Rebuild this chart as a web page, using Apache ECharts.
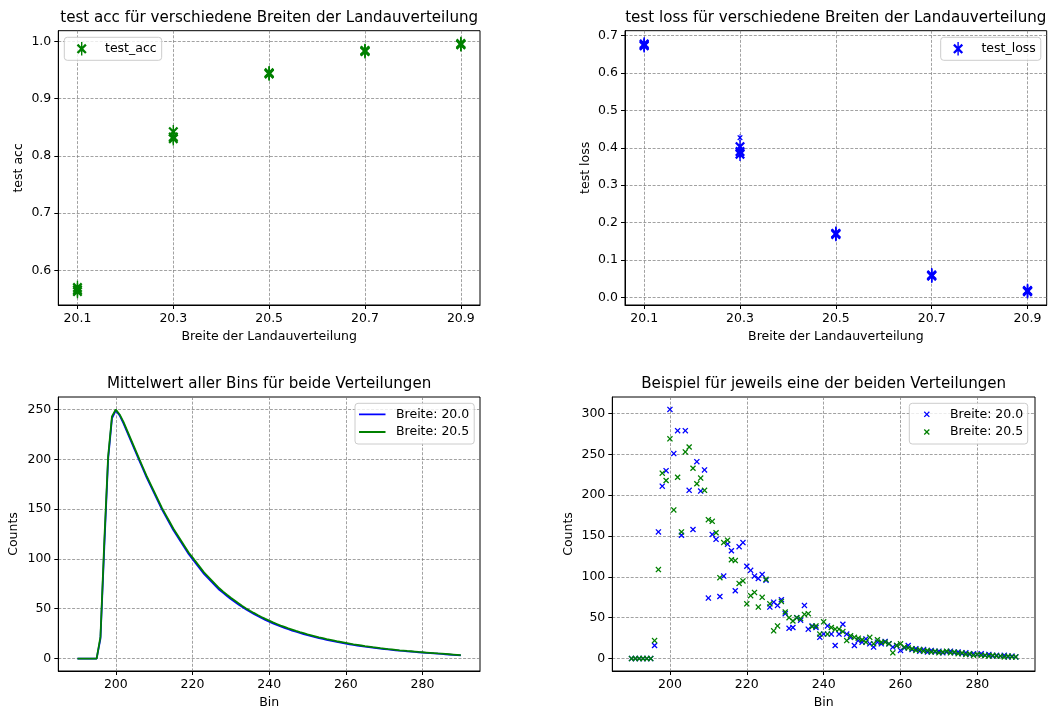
<!DOCTYPE html>
<html><head><meta charset="utf-8">
<script src="https://cdn.jsdelivr.net/npm/echarts@6/dist/echarts.min.js"></script>
<style>html,body{margin:0;padding:0;background:#fff}#c{width:1049px;height:711px}</style>
</head><body><div id="c"></div>
<script>
// ---- data ----
const widths = [20.1, 20.3, 20.5, 20.7, 20.9];
const accRun1 = [0.570, 0.842, 0.944, 0.984, 0.996];
const accRun2 = [0.563, 0.833, 0.943, 0.982, 0.995];
const accRun3 = [0.566, 0.830, 0.945, 0.983, 0.994];
const lossRun1 = [0.675, 0.403, 0.171, 0.060, 0.018];
const lossRun2 = [0.678, 0.390, 0.168, 0.057, 0.015];
const lossRun3 = [0.673, 0.383, 0.170, 0.058, 0.017];
const lossSmallX = [20.3];
const lossSmallY = [0.427];

const bins = [190,191,192,193,194,195,196,197,198,199,
200,201,202,203,204,205,206,207,208,209,
210,211,212,213,214,215,216,217,218,219,
220,221,222,223,224,225,226,227,228,229,
230,231,232,233,234,235,236,237,238,239,
240,241,242,243,244,245,246,247,248,249,
250,251,252,253,254,255,256,257,258,259,
260,261,262,263,264,265,266,267,268,269,
270,271,272,273,274,275,276,277,278,279,
280,281,282,283,284,285,286,287,288,289,
290];
const meanW200 = [0,0,0,0,0,0,20,112,200,241,
249,244,236,227,218,209,200,191,182,174,
166,158,150,143,136,129,123,117,111,105,
100,95,90,85,81,77,73,69,66,62.8,
59.8,57,54.3,51.7,49.3,47,44.8,42.7,40.7,38.8,
37,35.3,33.7,32.2,30.8,29.4,28.1,26.9,25.7,24.6,
23.5,22.5,21.5,20.6,19.7,18.8,18,17.2,16.4,15.7,
15,14.3,13.7,13.1,12.5,11.9,11.4,10.9,10.4,9.9,
9.5,9.1,8.7,8.3,7.9,7.6,7.2,6.9,6.6,6.3,
6,5.7,5.4,5.1,4.9,4.6,4.3,4,3.7,3.4,
3.1];
const meanW205 = [0,0,0,0,0,0,22,118,203,243,
250,245,237.5,228.5,219.5,210.5,201.5,192.5,183.5,175.5,
167.5,159.5,151.5,144.5,137.5,130.5,124.5,118.5,112.5,106.5,
101.5,96.5,91.5,86.5,82.5,78.5,74.5,70.5,67.2,64,
61,58.2,55.4,52.8,50.3,48,45.8,43.7,41.7,39.8,
38,36.3,34.7,33.1,31.7,30.3,29,27.7,26.5,25.4,
24.3,23.3,22.3,21.3,20.4,19.5,18.7,17.9,17.1,16.4,
15.7,15,14.3,13.7,13.1,12.5,12,11.4,10.9,10.4,
10,9.5,9.1,8.7,8.3,8,7.6,7.3,7,6.6,
6.3,6,5.7,5.4,5.1,4.9,4.6,4.3,4,3.7,
3.4];
const sampleW200 = [0,0,0,0,0,0,16,155,211,230,
305,251,279,151,279,206,158,241,205,231,
74,152,146,76,101,140,132,83,137,142,
113,108,101,98,103,96,63,69,65,72,
55,37,38,50,47,65,36,40,38,26,
30,40,30,16,30,42,30,26,16,22,
20,24,18,14,20,18,21,18,14,16,
10,13,16,11,12,9,11,8,10,8,
9,7,8,9,7,8,6,7,5,6,
5,6,4,5,3,4,3,4,2,3,
2];
const sampleW205 = [0,0,0,0,0,0,22,109,227,218,
269,182,222,155,253,259,233,214,221,206,
170,168,154,99,142,145,121,120,92,95,
67,77,81,63,75,97,67,34,40,70,
57,50,46,50,49,54,55,39,40,30,
45,30,38,36,36,33,22,28,26,25,
23,20,26,18,23,20,20,18,7,16,
18,14,13,12,10,11,9,10,8,9,
7,8,9,7,8,6,7,5,6,4,
5,4,4,3,4,3,3,2,3,2,
2];
const xTicksTop = [20.1, 20.3, 20.5, 20.7, 20.9];
const yTicksAcc = [0.6, 0.7, 0.8, 0.9, 1.0];
const yTicksLoss = [0.0, 0.1, 0.2, 0.3, 0.4, 0.5, 0.6, 0.7];
const xTicksBin = [200, 220, 240, 260, 280];
const yTicksMean = [0, 50, 100, 150, 200, 250];
const yTicksSample = [0, 50, 100, 150, 200, 250, 300];

// ---- styles ----
const FONT = 'DejaVu Sans';
const FS = 12.5;
const GREEN = '#008000', BLUE = '#0000ff';
const X_SHAPE = 'M0,1.5L1.5,0L5,3.5L8.5,0L10,1.5L6.5,5L10,8.5L8.5,10L5,6.5L1.5,10L0,8.5L3.5,5Z';
const XBAR_SHAPE = 'M0,1.6L1.6,0L5,3.4L8.4,0L10,1.6L6.6,5L10,8.4L8.4,10L5,6.6L1.6,10L0,8.4L3.4,5ZM4.3,-1.8L5.7,-1.8L5.7,11.8L4.3,11.8Z';
const X_PATH = 'path://' + X_SHAPE;
const XBAR_PATH = 'path://' + XBAR_SHAPE;
// legend icons: same marker, padded with invisible points so it keeps the plot size
const X_LEGEND = 'path://' + X_SHAPE + 'M-15,-5.83L-15,-5.83ZM35.3,15.83L35.3,15.83Z';
const XBAR_LEGEND = 'path://' + XBAR_SHAPE + 'M-6.9,-1.8L-6.9,-1.8ZM23.3,11.8L23.3,11.8Z';
const LINE_LEGEND = 'path://M0,5.6L26.5,5.6L26.5,7.4L0,7.4ZM32,0L32,0ZM32,13L32,13Z';

function pairs(xs, ys) { return xs.map((x, i) => [x, ys[i]]); }

function mkAxis(gi, opts) {
  return Object.assign({
    type: 'value', gridIndex: gi, scale: false,
    nameLocation: 'middle',
    nameTextStyle: { fontFamily: FONT, fontSize: FS, color: '#000' },
    axisLine: { show: true, onZero: false, lineStyle: { color: '#000', width: 1 } },
    axisTick: { show: true, length: 4, lineStyle: { color: '#000', width: 1 }, customValues: opts.ticks },
    axisLabel: { show: true, customValues: opts.ticks, margin: 7, fontFamily: FONT, fontSize: FS, color: '#000',
      formatter: v => opts.dec != null ? Number(v).toFixed(opts.dec) : String(v) },
    splitLine: { show: true, lineStyle: { color: '#7a7a7a', width: 0.7, type: [3, 1.6] } }
  }, opts.extra);
}

const legendBase = {
  orient: 'vertical', selectedMode: false,
  itemWidth: 30.2, itemHeight: 13, itemGap: 4.7,
  borderColor: '#cccccc', borderWidth: 1, borderRadius: 3,
  backgroundColor: 'rgba(255,255,255,0.8)',
  itemStyle: { borderWidth: 0 },
  textStyle: { fontFamily: FONT, fontSize: FS, color: '#000', lineHeight: 13 }
};
const titleBase = { textAlign: 'center', textVerticalAlign: 'middle', padding: 0,
  textStyle: { fontFamily: FONT, fontSize: 15.1, fontWeight: 'normal', color: '#000' } };

const grids = [
  { left: 58.3, top: 30.7, width: 421.7, height: 274.3 },
  { left: 625, top: 30.7, width: 421.7, height: 274.3 },
  { left: 58.3, top: 397, width: 421.7, height: 274 },
  { left: 612.3, top: 397, width: 422.7, height: 274 }
].map(g => Object.assign({ show: true, borderColor: '#000', borderWidth: 1, backgroundColor: 'transparent' }, g));

const option = {
  animation: false,
  backgroundColor: '#fff',
  title: [
    Object.assign({ text: 'test acc für verschiedene Breiten der Landauverteilung', left: 269.2, top: 18.5 }, titleBase),
    Object.assign({ text: 'test loss für verschiedene Breiten der Landauverteilung', left: 835.8, top: 18.5 }, titleBase),
    Object.assign({ text: 'Mittelwert aller Bins für beide Verteilungen', left: 269.2, top: 384 }, titleBase),
    Object.assign({ text: 'Beispiel für jeweils eine der beiden Verteilungen', left: 823.7, top: 384 }, titleBase)
  ],
  grid: grids,
  xAxis: [
    mkAxis(0, { ticks: xTicksTop, dec: 1, extra: { min: 20.06, max: 20.94, name: 'Breite der Landauverteilung', nameGap: 25 } }),
    mkAxis(1, { ticks: xTicksTop, dec: 1, extra: { min: 20.06, max: 20.94, name: 'Breite der Landauverteilung', nameGap: 25 } }),
    mkAxis(2, { ticks: xTicksBin, extra: { min: 185, max: 295, name: 'Bin', nameGap: 25 } }),
    mkAxis(3, { ticks: xTicksBin, extra: { min: 185, max: 295, name: 'Bin', nameGap: 25 } })
  ],
  yAxis: [
    mkAxis(0, { ticks: yTicksAcc, dec: 1, extra: { min: 0.5395, max: 1.0185, name: 'test acc', nameGap: 33 } }),
    mkAxis(1, { ticks: yTicksLoss, dec: 1, extra: { min: -0.0206, max: 0.7134, name: 'test loss', nameGap: 33 } }),
    mkAxis(2, { ticks: yTicksMean, extra: { min: -12.5, max: 262.5, name: 'Counts', nameGap: 38 } }),
    mkAxis(3, { ticks: yTicksSample, extra: { min: -15.25, max: 320.25, name: 'Counts', nameGap: 37 } })
  ],
  legend: [
    Object.assign({}, legendBase, { data: [{ name: 'test_acc', icon: XBAR_LEGEND }], left: 64.3, top: 37.3,
      itemHeight: 13.6, padding: [4.7, 5, 4.7, 5.5] }),
    Object.assign({}, legendBase, { data: [{ name: 'test_loss', icon: XBAR_LEGEND }], left: 940.7, top: 37.3,
      itemHeight: 13.6, padding: [4.7, 5, 4.7, 5.5] }),
    Object.assign({}, legendBase, { data: [{ name: 'Breite: 20.0', icon: LINE_LEGEND }, { name: 'Breite: 20.5', icon: LINE_LEGEND }],
      left: 355, top: 403.3, itemWidth: 32, padding: [4.5, 5, 5.5, 4] }),
    Object.assign({}, legendBase, { data: [{ name: 'Beispiel 20.0', icon: X_LEGEND }, { name: 'Beispiel 20.5', icon: X_LEGEND }],
      left: 909.3, top: 403.3, padding: [4.5, 4.5, 5.5, 5.5],
      formatter: n => n.replace('Beispiel ', 'Breite: ') })
  ],
  series: [
    { name: 'test_acc', type: 'scatter', xAxisIndex: 0, yAxisIndex: 0, symbol: XBAR_PATH, symbolSize: [10, 13.6],
      itemStyle: { color: GREEN, opacity: 1 },
      data: pairs(widths, accRun1).concat(pairs(widths, accRun2), pairs(widths, accRun3)) },
    { name: 'test_loss', type: 'scatter', xAxisIndex: 1, yAxisIndex: 1, symbol: XBAR_PATH, symbolSize: [10, 13.6],
      itemStyle: { color: BLUE, opacity: 1 },
      data: pairs(widths, lossRun1).concat(pairs(widths, lossRun2), pairs(widths, lossRun3),
        pairs(lossSmallX, lossSmallY).map(p => ({ value: p, symbolSize: [5.5, 7.5] }))) },
    { name: 'Breite: 20.0', type: 'line', xAxisIndex: 2, yAxisIndex: 2, symbol: 'none',
      lineStyle: { color: BLUE, width: 1.8 }, itemStyle: { color: BLUE }, data: pairs(bins, meanW200) },
    { name: 'Breite: 20.5', type: 'line', xAxisIndex: 2, yAxisIndex: 2, symbol: 'none',
      lineStyle: { color: GREEN, width: 1.8 }, itemStyle: { color: GREEN }, data: pairs(bins, meanW205) },
    { name: 'Beispiel 20.0', type: 'scatter', xAxisIndex: 3, yAxisIndex: 3, symbol: X_PATH, symbolSize: 6,
      itemStyle: { color: BLUE, opacity: 1 }, data: pairs(bins, sampleW200) },
    { name: 'Beispiel 20.5', type: 'scatter', xAxisIndex: 3, yAxisIndex: 3, symbol: X_PATH, symbolSize: 6,
      itemStyle: { color: GREEN, opacity: 1 }, data: pairs(bins, sampleW205) }
  ]
};
const chart = echarts.init(document.getElementById('c'), null, { renderer: 'canvas' });
chart.setOption(option);
</script>
</body></html>
